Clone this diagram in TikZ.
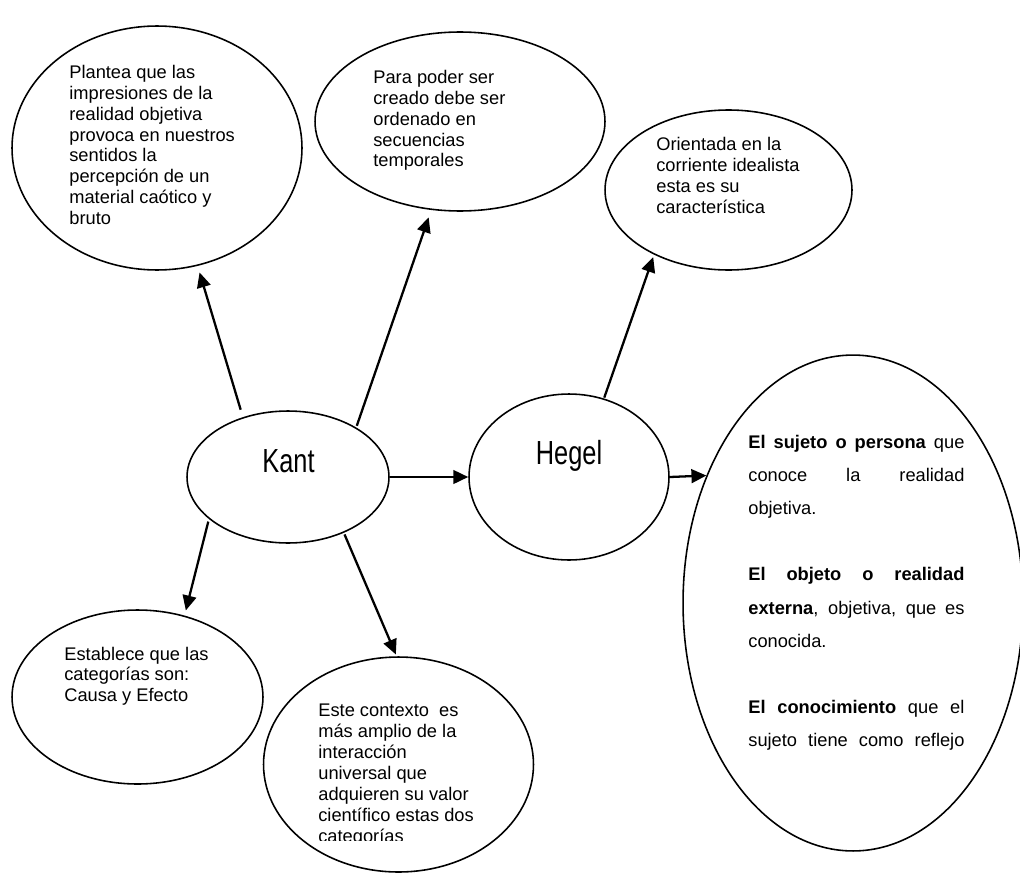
\documentclass[tikz,border=0pt]{standalone}
\usepackage{fontspec}
\setmainfont{Liberation Sans}
\usepackage{tikz}
\usetikzlibrary{shapes}
\usetikzlibrary{arrows.meta}
\newcommand{\jline}[1]{\makebox[\linewidth][s]{#1}}

\begin{document}
\begin{tikzpicture}[x=0.02cm,y=-0.02cm]
        \useasboundingbox (0,0) rectangle (1020,875);
        \begin{scope}[every node/.style={draw,ellipse,line width=0.9pt,inner sep=0pt}]
          \node[minimum width=4.04cm,minimum height=2.64cm] (a) at (288,477) {};
          \node[minimum width=4cm,minimum height=3.32cm] (b) at (569,477) {};
          \node[minimum width=5.8cm,minimum height=4.88cm] (c) at (157,148) {};
          \node[minimum width=5.8cm,minimum height=3.58cm] (d) at (460,121.5) {};
          \node[minimum width=4.94cm,minimum height=3.2cm] (e) at (728.5,190) {};
          \node[minimum width=5.02cm,minimum height=3.48cm] (f) at (137.5,697) {};
          \node[minimum width=5.4cm,minimum height=4.3cm] (g) at (398.5,764.5) {};
          \node[minimum width=6.8cm,minimum height=9.92cm] (h) at (853,603) {};
        \end{scope}
        \begin{scope}[every node/.style={anchor=base west,inner sep=0pt,font=\fontsize{10.4}{11.9}\selectfont}]
          \node[anchor=base,font=\fontsize{19}{22}\selectfont] (ta) at (288.5,472) {\scalebox{0.76}[1]{Kant}};
          \node[anchor=base,font=\fontsize{19}{22}\selectfont] (tb) at (569,464) {\scalebox{0.76}[1]{Hegel}};
          \begin{scope}
            \clip (0,0) rectangle (1020,225);
            \node (tc) at (69,78.3) {\parbox[t]{6cm}{Plantea que las\\impresiones de la\\realidad objetiva\\provoca en nuestros\\sentidos la\\percepción de un\\material caótico y\\bruto}};
          \end{scope}
          \node (td) at (373,83.3) {\parbox[t]{6cm}{Para poder ser\\creado debe ser\\ordenado en\\secuencias\\temporales}};
          \node (te) at (656,150.7) {\parbox[t]{6cm}{Orientada en la\\corriente idealista\\esta es su\\característica}};
          \node (tf) at (64,660) {\parbox[t]{6cm}{Establece que las\\categorías son:\\Causa y Efecto}};
          \begin{scope}
            \clip (0,600) rectangle (1020,840);
            \node (tg) at (318,716.7) {\parbox[t]{6cm}{Este contexto\ \ es\\más amplio de la\\interacción\\universal que\\adquieren su valor\\científico estas dos\\categorías}};
          \end{scope}
          \node[font=\fontsize{10.4}{18.9}\selectfont] (th) at (748,448) {\parbox[t]{123pt}{\jline{\textbf{El sujeto o persona} que}\\
            \jline{conoce la realidad}\\
            objetiva.\\[18.9pt]
            \jline{\textbf{El objeto o realidad}}\\
            \jline{\textbf{externa}, objetiva, que es}\\
            conocida.\\[18.9pt]
            \jline{\textbf{El conocimiento} que el}\\
            \jline{sujeto tiene como reflejo}}};
        \end{scope}
        \begin{scope}[every edge/.style={draw=black,line width=1.3pt,-{Triangle[length=8.5pt,width=7.8pt]}}]
          \path (a.127) edge[shorten <=4.4pt,shorten >=3.9pt] (c.-71);
          \path (a.36) edge[shorten <=1pt,shorten >=4.5pt] (d.-108);
          \path (b.66) edge[shorten <=0.5pt,shorten >=1.5pt] (e.-139);
          \path (a.-152) edge[shorten <=1.5pt,shorten >=3pt] (f.60);
          \path (a.-45) edge[shorten <=1pt,shorten >=1.1pt] (g.91);
          \path (a) edge (b);
          \path (b.east) edge (h.139);
        \end{scope}
      \end{tikzpicture}
\end{document}
